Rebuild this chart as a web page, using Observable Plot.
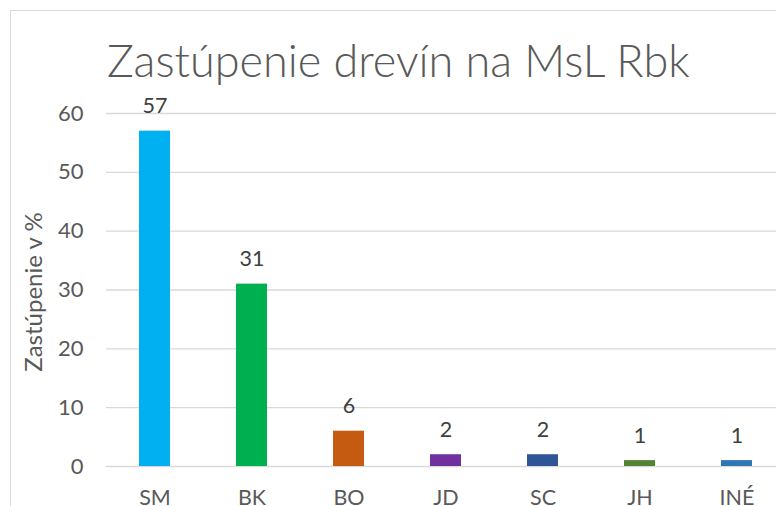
<!DOCTYPE html>
<html>
<head>
<meta charset="utf-8">
<script src="https://cdn.jsdelivr.net/npm/d3@7"></script>
<script src="https://cdn.jsdelivr.net/npm/@observablehq/plot@0.6"></script>
<style>
  html, body { margin: 0; padding: 0; background: #fff; }
  body { width: 776px; height: 506px; position: relative; overflow: hidden; font-family: Lato, "Open Sans", sans-serif; }
  #frame { position: absolute; left: 9.5px; top: 9.5px; width: 900px; height: 700px; border: 1.5px solid #d9d9d9; box-sizing: border-box; }
  #title { position: absolute; left: 107px; top: 37.5px; font-size: 45px; font-weight: 300; color: #595959; white-space: nowrap; line-height: 1; margin: 0; }
  #chart { position: absolute; left: 0; top: 0; }
</style>
</head>
<body>
<div id="frame"></div>
<div id="title">Zastúpenie drevín na MsL Rbk</div>
<div id="chart"></div>
<script>
const categories = ["SM", "BK", "BO", "JD", "SC", "JH", "INÉ"];
const values = [57, 31, 6, 2, 2, 1, 1];
const colors = ["#00b0f0", "#00b050", "#c55a11", "#7030a0", "#2f5597", "#548235", "#2e75b6"];
const yTicks = [0, 10, 20, 30, 40, 50, 60];
const yLabel = "Zastúpenie v %";

const data = categories.map((c, i) => ({cat: c, val: values[i], color: colors[i]}));

const chart = Plot.plot({
  width: 776,
  height: 506,
  marginLeft: 106,
  marginRight: 0,
  marginTop: 113,
  marginBottom: 40,
  style: {fontFamily: "Lato, 'Open Sans', sans-serif", background: "transparent", overflow: "visible"},
  x: {domain: categories, range: [106, 785], paddingInner: 0.68, paddingOuter: 0.34, axis: null},
  y: {domain: [0, 60], range: [466, 113], axis: null},
  marks: [
    Plot.gridY(yTicks, {stroke: "#d9d9d9", strokeOpacity: 1, strokeWidth: 1.3}),
    Plot.barY(data, {x: "cat", y: "val", fill: "color"}),
    Plot.text(data, {x: "cat", y: "val", text: d => String(d.val), dy: -18, lineAnchor: "bottom", fontSize: 21.5, fill: "#404040"}),
    Plot.axisY(yTicks, {tickSize: 0, tickPadding: 23, fontSize: 22, color: "#595959", label: null}),
    Plot.axisX(categories, {tickSize: 0, tickPadding: 23, fontSize: 21.5, color: "#595959", label: null}),
    Plot.text([yLabel], {frameAnchor: "left", dx: -72, dy: 2, rotate: -90, textAnchor: "middle", fontSize: 24, fill: "#595959"})
  ]
});
document.getElementById("chart").appendChild(chart);
</script>
</body>
</html>
